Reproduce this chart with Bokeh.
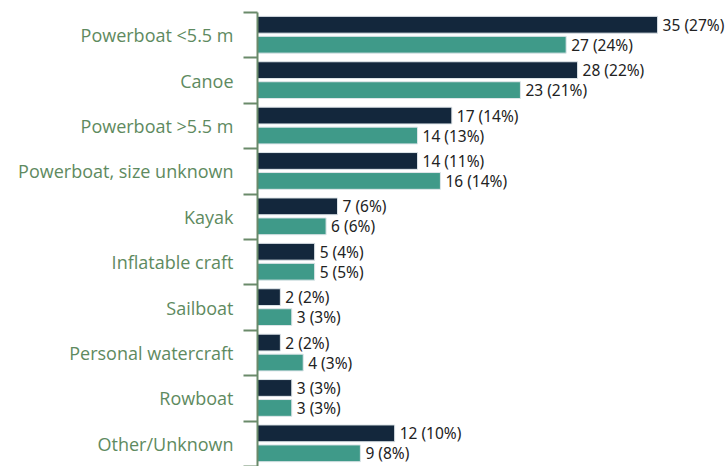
from bokeh.plotting import figure
from bokeh.models import ColumnDataSource, Range1d, FixedTicker
from bokeh.embed import file_html
from bokeh.resources import INLINE
from bokeh.core.properties import value

categories = ["Powerboat <5.5 m", "Canoe", "Powerboat >5.5 m", "Powerboat, size unknown",
              "Kayak", "Inflatable craft", "Sailboat", "Personal watercraft", "Rowboat",
              "Other/Unknown"]
counts_a = [35, 28, 17, 14, 7, 5, 2, 2, 3, 12]
pct_a = [27, 22, 14, 11, 6, 4, 2, 2, 3, 10]
counts_b = [27, 23, 14, 16, 6, 5, 3, 4, 3, 9]
pct_b = [24, 21, 13, 14, 6, 5, 3, 3, 3, 8]

DARK = "#13273c"
TEAL = "#3f9a89"
AXIS = "#6a8a6a"
LABEL = "#5e8a60"

idx = list(range(len(categories)))
src_a = ColumnDataSource(dict(
    y=[i + 0.27 for i in idx], v=counts_a,
    lab=[f"{c} ({p}%)" for c, p in zip(counts_a, pct_a)]))
src_b = ColumnDataSource(dict(
    y=[i + 0.71 for i in idx], v=counts_b,
    lab=[f"{c} ({p}%)" for c, p in zip(counts_b, pct_b)]))

p = figure(width=728, height=466, output_backend="svg", toolbar_location=None,
           x_range=Range1d(0, 41.2), y_range=Range1d(len(categories), 0),
           min_border_left=257, min_border_right=0, min_border_top=12, min_border_bottom=0)
p.outline_line_color = None
p.xgrid.visible = False
p.ygrid.visible = False
p.xaxis.visible = False

h = 0.37
p.hbar(y="y", right="v", left=0, height=h, source=src_a, fill_color=DARK,
       line_color="#dfe6ea", line_width=1)
p.hbar(y="y", right="v", left=0, height=h, source=src_b, fill_color=TEAL,
       line_color="#dfe6ea", line_width=1)

for src in (src_a, src_b):
    p.text(x="v", y="y", text="lab", source=src, x_offset=5,
           text_baseline="middle", text_align="left", text_color="#222222",
           text_font=value("Noto Sans"), text_font_size="15.5px")

yax = p.yaxis[0]
yax.ticker = FixedTicker(ticks=[i + 0.5 for i in idx], minor_ticks=list(range(len(categories) + 1)))
yax.major_label_overrides = {i + 0.5: c for i, c in zip(idx, categories)}
yax.major_tick_line_color = None
yax.major_tick_out = 0
yax.major_tick_in = 0
yax.minor_tick_out = 14
yax.minor_tick_in = 0
yax.minor_tick_line_color = AXIS
yax.minor_tick_line_width = 2
yax.axis_line_color = AXIS
yax.axis_line_width = 2
yax.major_label_standoff = 10
yax.major_label_text_font = "Open Sans"
yax.major_label_text_font_size = "18px"
yax.major_label_text_color = LABEL

open("out.html", "w").write(file_html(p, INLINE))
